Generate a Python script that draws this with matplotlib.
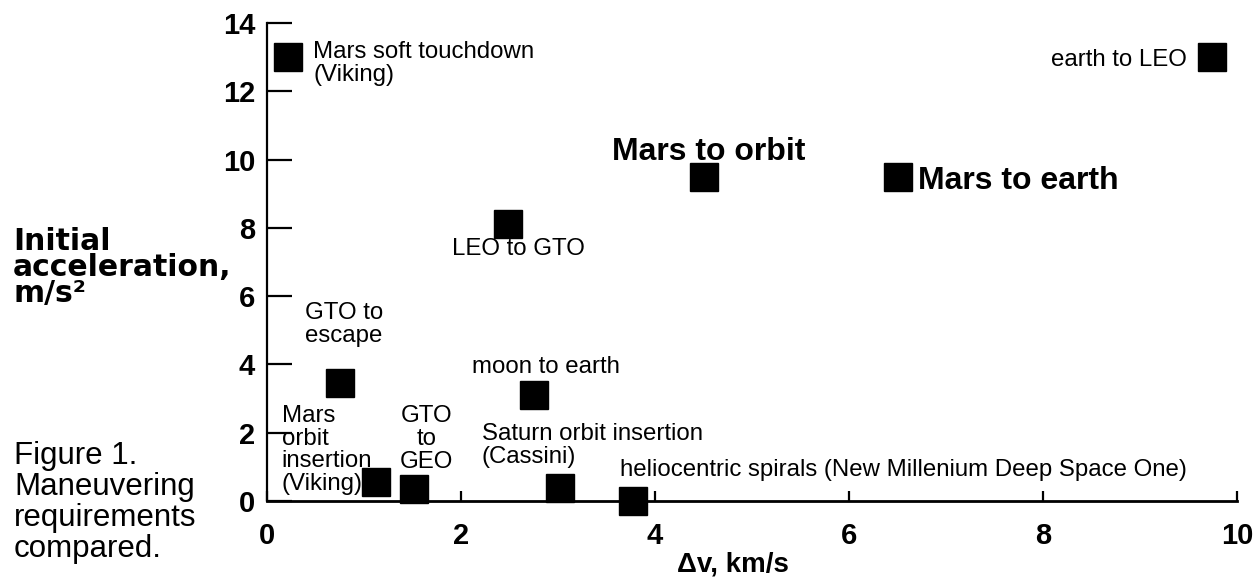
import matplotlib
matplotlib.use("Agg")
import matplotlib.pyplot as plt

plt.rcParams['font.family'] = ['Liberation Sans', 'DejaVu Sans']

# ---- data ----
labels = [
    "Mars soft touchdown\n(Viking)",
    "earth to LEO",
    "Mars to orbit",
    "Mars to earth",
    "LEO to GTO",
    "GTO to\nescape",
    "moon to earth",
    "Mars\norbit\ninsertion\n(Viking)",
    "GTO\nto\nGEO",
    "Saturn orbit insertion\n(Cassini)",
    "heliocentric spirals (New Millenium Deep Space One)",
]
delta_v = [0.22, 9.74, 4.5, 6.5, 2.48, 0.75, 2.75, 1.12, 1.52, 3.02, 3.77]
accel = [13.0, 13.0, 9.5, 9.5, 8.1, 3.45, 3.1, 0.55, 0.35, 0.38, 0.0]
x_ticks = [0, 2, 4, 6, 8, 10]
y_ticks = [0, 2, 4, 6, 8, 10, 12, 14]

# label placement (offset in pixels from marker centre to last-line baseline)
label_style = [
    dict(off=(25, -24), ha='left', bold=False),
    dict(off=(-25, -9), ha='right', bold=False),
    dict(off=(5, 17), ha='center', bold=True),
    dict(off=(20, -12), ha='left', bold=True),
    dict(off=(11, -31), ha='center', bold=False),
    dict(off=(-35, 41), ha='left', bold=False),
    dict(off=(-62, 22), ha='left', bold=False),
    dict(off=(-94, -8), ha='left', bold=False),
    dict(off=(12, 21), ha='center', bold=False),
    dict(off=(-78, 25), ha='left', bold=False),
    dict(off=(-13, 25), ha='left', bold=False),
]

fig = plt.figure(figsize=(12.54, 5.78), dpi=100)
ax = fig.add_axes([267 / 1254, 1 - 501 / 578, (1237 - 267) / 1254, (501 - 23) / 578])

ax.plot(delta_v, accel, linestyle='none', marker='s', markersize=19.5,
        color='black', clip_on=False, zorder=3)

for lab, x, y, st in zip(labels, delta_v, accel, label_style):
    ax.annotate(lab, xy=(x, y), xytext=st['off'], textcoords='offset pixels',
                ha=st['ha'], va='baseline',
                fontsize=23 if st['bold'] else 17.3,
                fontweight='bold' if st['bold'] else 'normal',
                linespacing=1.05, multialignment=st['ha'],
                annotation_clip=False)

ax.set_xlim(0, 10)
ax.set_ylim(0, 14)
ax.set_xticks(x_ticks)
ax.set_yticks(y_ticks)
ax.set_xticklabels([str(t) for t in x_ticks], fontsize=21, fontweight='bold')
ax.set_yticklabels([str(t) for t in y_ticks], fontsize=21, fontweight='bold')
ax.tick_params(axis='y', direction='in', length=18, width=1.6, pad=8.5)
ax.tick_params(axis='x', direction='in', length=7, width=1.6, pad=15)
for s in ['top', 'right']:
    ax.spines[s].set_visible(False)
ax.spines['left'].set_linewidth(1.6)
ax.spines['bottom'].set_linewidth(2.0)

fig.text(13 / 1254, 1 - 302 / 578, "Initial\nacceleration,\nm/s\u00b2",
         ha='left', va='baseline', fontsize=21.5, fontweight='bold',
         family=['DejaVu Sans'], linespacing=0.86)
fig.text(733 / 1254, 1 - 572 / 578, "\u0394v, km/s", ha='center', va='baseline',
         fontsize=20, fontweight='bold')
fig.text(14 / 1254, 1 - 557 / 578, "Figure 1.\nManeuvering\nrequirements\ncompared.",
         ha='left', va='baseline', fontsize=22.5, linespacing=1.04)

fig.savefig("out.png", dpi=100)
